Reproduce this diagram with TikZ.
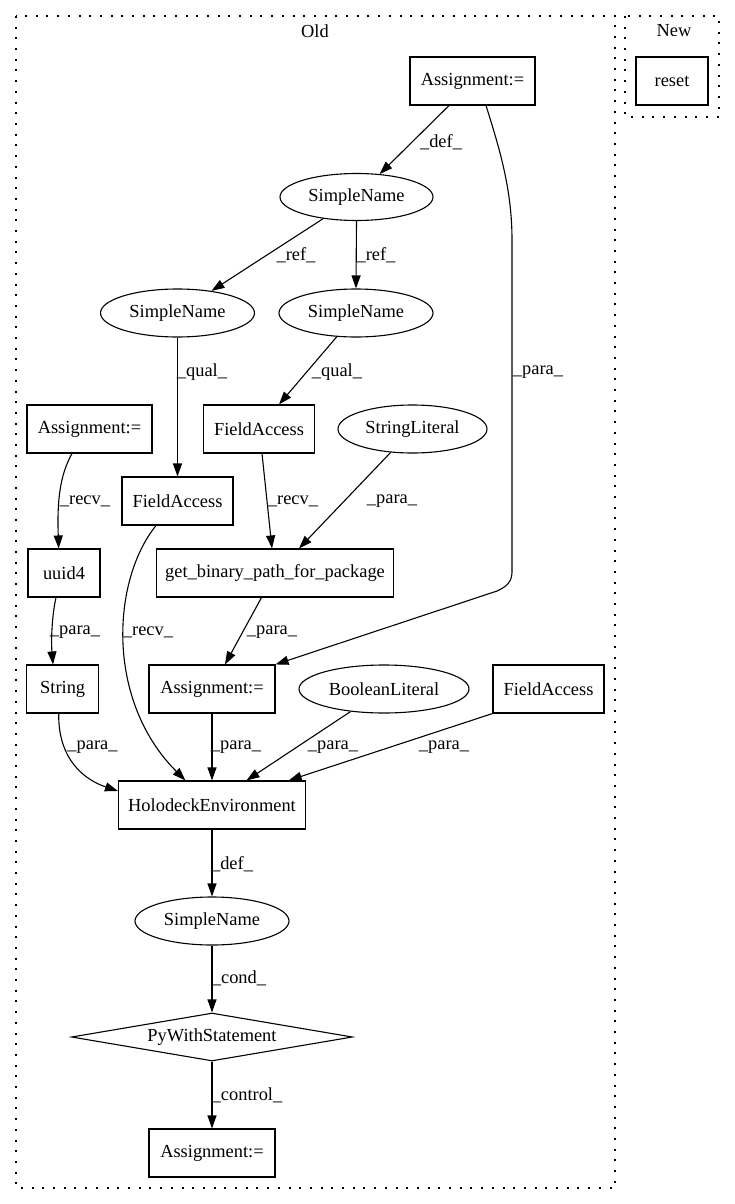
\documentclass[tikz,border=0pt]{standalone}
\usepackage{fontspec}
\setmainfont{Liberation Serif}
\usetikzlibrary{shapes.geometric,arrows.meta}
\begin{document}
\begin{tikzpicture}[x=1pt,y=-1pt,line width=1.1pt,
  font=\fontsize{18.4}{22}\selectfont,
  box/.style={draw,rectangle,minimum height=48pt,inner sep=0pt},
  oval/.style={draw,ellipse,minimum height=48pt,inner sep=0pt},
  dia/.style={draw,diamond,aspect=5.85,minimum height=48pt,inner sep=0pt},
  edge/.style={-{Triangle[length=13pt,width=9pt]}},
  lab/.style={inner sep=0pt},
  cluster/.style={dash pattern=on 2pt off 8.7pt}]
\useasboundingbox (0,0) rectangle (735,1204);
% clusters
\draw[cluster] (16,16) rectangle (615,1188);
\node[lab] (oldlab) at (315,31) {Old};
\draw[cluster] (625,16) rectangle (719,117);
\node[lab] (newlab) at (674,31) {New};
% nodes
\node[box,minimum width=72pt] (reset) at (672,81) {reset};
\node[box,minimum width=125pt] (aTop) at (472.5,81) {Assignment:=};
\node[oval,minimum width=153pt,minimum height=47pt] (snTop) at (356.5,197) {SimpleName};
\node[oval,minimum width=154pt] (snL) at (177.5,313) {SimpleName};
\node[oval,minimum width=154pt] (snR) at (356,313) {SimpleName};
\node[box,minimum width=125pt] (aL) at (89.5,429) {Assignment:=};
\node[box,minimum width=111pt] (faU) at (259,429) {FieldAccess};
\node[oval,minimum width=149pt] (strLit) at (412.5,429) {StringLiteral};
\node[box,minimum width=111pt] (faM) at (177.5,501) {FieldAccess};
\node[box,minimum width=72pt] (uuid) at (64,573) {uuid4};
\node[box,minimum width=237pt] (gbp) at (275,573) {get\_binary\_path\_for\_package};
\node[box,minimum width=72pt] (str) at (62.7,689) {String};
\node[box,minimum width=126pt] (aM) at (212,689) {Assignment:=};
\node[oval,minimum width=170pt] (bool) at (384,689) {BooleanLiteral};
\node[box,minimum width=111pt] (faR) at (548.5,689) {FieldAccess};
\node[box,minimum width=187pt] (holo) at (212,805) {HolodeckEnvironment};
\node[oval,minimum width=154pt] (snB) at (212,921) {SimpleName};
\node[dia,minimum width=281pt] (py) at (212,1037) {PyWithStatement};
\node[box,minimum width=126pt] (aB) at (212,1153) {Assignment:=};
% edges
\draw[edge] ([xshift=-23.5pt]aTop.south) -- (snTop);
\node[lab] (l1) at (441,142) {\_def\_};
\draw[edge] (snTop.213) -- (snL.33);
\node[lab] (l2) at (296,255) {\_ref\_};
\draw[edge] (snTop.south) -- (snR.north);
\node[lab] (l3) at (376,255) {\_ref\_};
\draw[edge] (snL.south) -- (faM.north);
\node[lab] (l4) at (202,372) {\_qual\_};
\draw[edge] (snR.231) -- ([xshift=20pt]faU.north);
\node[lab] (l5) at (337,372) {\_qual\_};
\draw[edge] ([xshift=13.5pt]aTop.south) .. controls (500,150) and (512,190) .. (512,240)
  -- (512,572) .. controls (512,582) and (506,587) .. (497,591) -- (aM.north east);
\node[lab] (l6) at (538,372) {\_para\_};
\draw[edge] ([xshift=-17.5pt]aL.south) .. controls (60,475) and (57,500) .. ([xshift=-5.3pt]uuid.north);
\node[lab] (l7) at (85,501) {\_recv\_};
\draw[edge] ([xshift=3pt]faU.south) -- ([xshift=-3pt]gbp.north);
\node[lab] (l8) at (293,501) {\_recv\_};
\draw[edge] (strLit.227) -- ([xshift=24pt]gbp.north);
\node[lab] (l9) at (392,501) {\_para\_};
\draw[edge] ([xshift=-21.5pt]faM.south) .. controls (112,580) and (105,700) .. ([xshift=-26.6pt]holo.north);
\node[lab] (l10) at (148,632) {\_recv\_};
\draw[edge] ([xshift=-8pt]uuid.south) .. controls (52,615) and (51,640) .. ([xshift=-9.7pt]str.north);
\node[lab] (l11) at (75,632) {\_para\_};
\draw[edge] ([xshift=-13.5pt]gbp.south) -- ([xshift=13pt]aM.north);
\node[lab] (l12) at (272,632) {\_para\_};
\draw[edge] ([xshift=-4pt]str.south) .. controls (58,760) and (85,780) .. ([yshift=14pt]holo.west);
\node[lab] (l13) at (92.5,747) {\_para\_};
\draw[edge] (aM.south) -- (holo.north);
\node[lab] (l14) at (236,747) {\_para\_};
\draw[edge] (bool.214) -- ([xshift=34.5pt]holo.north);
\node[lab] (l15) at (333,747) {\_para\_};
\draw[edge] (faR.south west) -- ([xshift=76.7pt]holo.north);
\node[lab] (l16) at (444,747) {\_para\_};
\draw[edge] (holo.south) -- (snB.north);
\node[lab] (l17) at (232,864) {\_def\_};
\draw[edge] (snB.south) -- (py.north);
\node[lab] (l18) at (239,978) {\_cond\_};
\draw[edge] (py.south) -- (aB.north);
\node[lab] (l19) at (247,1095) {\_control\_};
\end{tikzpicture}
\end{document}
